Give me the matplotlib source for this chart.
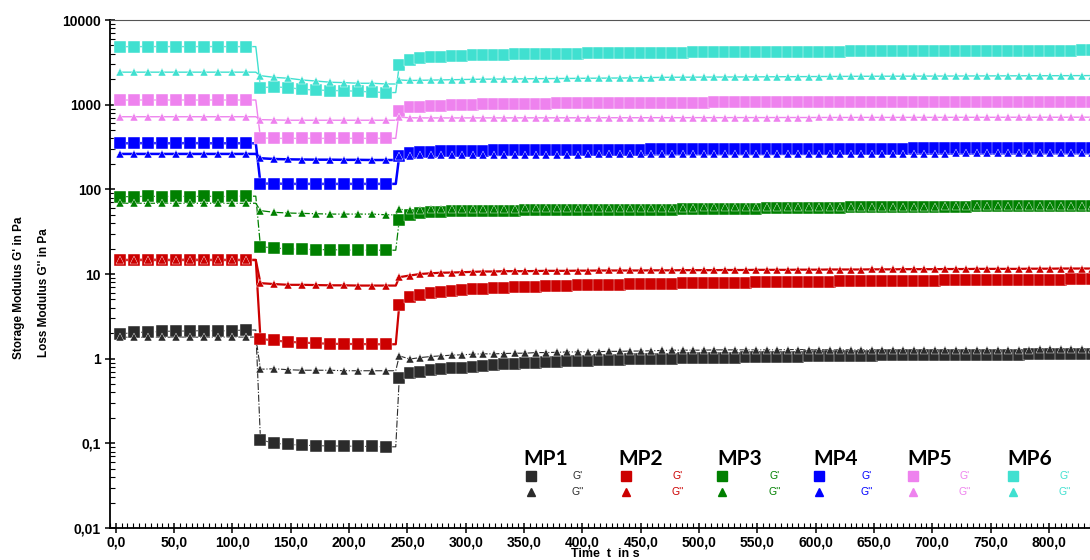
import numpy as np
import matplotlib
matplotlib.use("Agg")
import matplotlib.pyplot as plt
from matplotlib.ticker import MultipleLocator, FixedLocator, LogLocator, NullFormatter

plt.rcParams['font.family'] = ['Liberation Sans', 'DejaVu Sans']
plt.rcParams['font.weight'] = 'bold'

# sampling times in s (rest / high shear / recovery)
t_rest1 = [4, 16, 28, 40, 52, 64, 76, 88, 100, 112]
t_shear = [124, 136, 148, 160, 172, 184, 196, 208, 220, 232]
t_rec_start = 243
t_rec_step = 9

# ---- MP1 ----
mp1_gp_rest1 = [1.95, 2.05, 2.05, 2.1, 2.12, 2.12, 2.15, 2.12, 2.15, 2.18]
mp1_gp_shear = [0.11, 0.10, 0.097, 0.095, 0.094, 0.093, 0.093, 0.092, 0.092, 0.091]
mp1_gp_rec = [0.59, 0.675, 0.705, 0.725, 0.75, 0.77, 0.785, 0.805, 0.83, 0.845,
              0.86, 0.87, 0.885, 0.9, 0.91, 0.925, 0.935, 0.945, 0.95, 0.96,
              0.965, 0.975, 0.98, 0.985, 0.99, 0.995, 1.0, 1.005, 1.01, 1.015,
              1.02, 1.025, 1.03, 1.035, 1.04, 1.045, 1.05, 1.055, 1.06, 1.065,
              1.07, 1.07, 1.075, 1.08, 1.08, 1.085, 1.09, 1.09, 1.095, 1.095,
              1.1, 1.1, 1.105, 1.105, 1.11, 1.11, 1.11, 1.115, 1.115, 1.115,
              1.12, 1.12, 1.12, 1.12, 1.125, 1.125, 1.125]
mp1_gpp_rest1 = [1.8, 1.78, 1.8, 1.79, 1.8, 1.8, 1.79, 1.8, 1.8, 1.8]
mp1_gpp_shear = [0.75, 0.76, 0.74, 0.73, 0.73, 0.73, 0.72, 0.72, 0.72, 0.72]
mp1_gpp_rec = [1.08, 0.99, 1.03, 1.06, 1.08, 1.1, 1.11, 1.13, 1.14, 1.14,
               1.15, 1.16, 1.16, 1.18, 1.18, 1.19, 1.2, 1.2, 1.21, 1.21,
               1.22, 1.22, 1.23, 1.23, 1.24, 1.25, 1.26, 1.26, 1.26, 1.26,
               1.27, 1.27, 1.27, 1.27, 1.27, 1.27, 1.27, 1.28, 1.28, 1.28,
               1.28, 1.28, 1.28, 1.28, 1.28, 1.28, 1.28, 1.28, 1.28, 1.28,
               1.28, 1.28, 1.28, 1.28, 1.28, 1.28, 1.28, 1.28, 1.28, 1.28,
               1.28, 1.29, 1.29, 1.29, 1.29, 1.29, 1.29]

# ---- MP2 ----
mp2_gp_rest1 = [14.7, 14.7, 14.8, 14.7, 14.7, 14.8, 14.7, 14.7, 14.7, 14.7]
mp2_gp_shear = [1.71, 1.64, 1.58, 1.55, 1.52, 1.5, 1.49, 1.49, 1.48, 1.48]
mp2_gp_rec = [4.3, 5.3, 5.66, 5.93, 6.2, 6.37, 6.49, 6.61, 6.73, 6.79,
              6.92, 6.98, 7.05, 7.1, 7.17, 7.24, 7.3, 7.38, 7.38, 7.44,
              7.5, 7.5, 7.57, 7.6, 7.64, 7.67, 7.7, 7.73, 7.76, 7.79,
              7.82, 7.85, 7.88, 7.91, 7.94, 7.97, 8.0, 8.03, 8.06, 8.09,
              8.12, 8.15, 8.18, 8.2, 8.22, 8.24, 8.26, 8.28, 8.3, 8.32,
              8.34, 8.36, 8.38, 8.4, 8.42, 8.44, 8.46, 8.48, 8.5, 8.52,
              8.54, 8.56, 8.58, 8.6, 8.62, 8.64, 8.65]
mp2_gpp_rest1 = [14.6, 14.6, 14.6, 14.6, 14.6, 14.6, 14.6, 14.6, 14.6, 14.6]
mp2_gpp_shear = [7.8, 7.6, 7.45, 7.45, 7.4, 7.35, 7.35, 7.3, 7.3, 7.3]
mp2_gpp_rec = [9.17, 9.6, 10.0, 10.2, 10.35, 10.4, 10.5, 10.6, 10.7, 10.7,
               10.8, 10.8, 10.8, 10.85, 10.9, 10.9, 10.9, 10.95, 10.95, 11.0,
               11.0, 11.0, 11.0, 11.0, 11.05, 11.05, 11.05, 11.1, 11.1, 11.1,
               11.1, 11.15, 11.15, 11.15, 11.2, 11.2, 11.2, 11.2, 11.25, 11.25,
               11.25, 11.3, 11.3, 11.3, 11.3, 11.35, 11.35, 11.35, 11.4, 11.4,
               11.4, 11.4, 11.45, 11.45, 11.45, 11.5, 11.5, 11.5, 11.5, 11.5,
               11.55, 11.55, 11.55, 11.6, 11.6, 11.6, 11.6]

# ---- MP3 ----
mp3_gp_rest1 = [82, 82, 83, 82, 83, 82, 83, 82, 83, 83]
mp3_gp_shear = [21.0, 20.3, 19.7, 19.7, 19.4, 19.4, 19.2, 19.1, 19.1, 19.1]
mp3_gp_rec = [43.6, 49.9, 52.2, 53.7, 54.6, 55.0, 55.1, 55.4, 55.6, 55.8,
              56.0, 56.1, 56.3, 56.4, 56.5, 56.6, 56.7, 56.8, 56.9, 57.0,
              57.1, 57.2, 57.3, 57.4, 57.5, 57.6, 57.7, 57.9, 58.1, 58.3,
              58.5, 58.7, 58.9, 59.1, 59.3, 59.5, 59.7, 59.9, 60.1, 60.3,
              60.5, 60.7, 60.9, 61.1, 61.3, 61.5, 61.7, 61.9, 62.0, 62.1,
              62.2, 62.3, 62.4, 62.5, 62.6, 62.7, 62.8, 62.9, 63.0, 63.1,
              63.2, 63.3, 63.4, 63.5, 63.6, 63.7, 63.7]
mp3_gpp_rest1 = [68.5, 68.5, 68.5, 68.5, 68.5, 68.5, 68.5, 68.5, 68.5, 68.5]
mp3_gpp_shear = [56.0, 53.5, 52.5, 52.0, 51.5, 51.0, 51.0, 51.0, 51.0, 50.0]
mp3_gpp_rec = [58.2, 56.5, 57.5, 58.0, 58.3, 58.5, 58.7, 58.9, 59.0, 59.1,
               59.2, 59.3, 59.4, 59.5, 59.6, 59.7, 59.8, 59.9, 60.0, 60.1,
               60.2, 60.3, 60.4, 60.5, 60.6, 60.7, 60.8, 60.9, 61.0, 61.1,
               61.2, 61.3, 61.4, 61.5, 61.6, 61.7, 61.8, 61.9, 62.0, 62.0,
               62.1, 62.1, 62.2, 62.2, 62.3, 62.3, 62.4, 62.4, 62.5, 62.5,
               62.6, 62.6, 62.7, 62.7, 62.8, 62.8, 62.9, 62.9, 63.0, 63.0,
               63.0, 63.1, 63.1, 63.1, 63.2, 63.2, 63.2]

# ---- MP4 ----
mp4_gp_rest1 = [350, 350, 352, 350, 350, 352, 350, 350, 350, 350]
mp4_gp_shear = [117, 117, 116, 116, 116, 116, 116, 116, 116, 116]
mp4_gp_rec = [250, 267, 274, 279, 281, 284, 285, 286, 287, 288,
              289, 289, 290, 290, 291, 291, 292, 292, 293, 293,
              294, 294, 295, 295, 296, 296, 297, 297, 298, 298,
              298, 299, 299, 299, 300, 300, 300, 300, 301, 301,
              301, 302, 302, 302, 302, 303, 303, 303, 303, 304,
              304, 304, 304, 305, 305, 305, 305, 305, 306, 306,
              306, 306, 306, 307, 307, 307, 307]
mp4_gpp_rest1 = [262, 262, 262, 262, 262, 262, 262, 262, 262, 262]
mp4_gpp_shear = [233, 228, 226, 225, 224, 224, 223, 223, 222, 222]
mp4_gpp_rec = [248, 250, 251, 252, 253, 253, 254, 254, 255, 255,
               255, 256, 256, 256, 257, 257, 257, 257, 258, 258,
               258, 258, 259, 259, 259, 259, 260, 260, 260, 260,
               260, 261, 261, 261, 261, 261, 262, 262, 262, 262,
               262, 263, 263, 263, 263, 263, 263, 264, 264, 264,
               264, 264, 264, 265, 265, 265, 265, 265, 265, 265,
               266, 266, 266, 266, 266, 266, 266]

# ---- MP5 ----
mp5_gp_rest1 = [1135, 1135, 1135, 1135, 1135, 1135, 1135, 1135, 1135, 1135]
mp5_gp_shear = [405, 400, 400, 400, 400, 400, 400, 400, 400, 400]
mp5_gp_rec = [849, 931, 948, 966, 975, 984, 990, 1000, 1005, 1008,
              1019, 1020, 1025, 1028, 1030, 1033, 1035, 1038, 1040, 1042,
              1044, 1046, 1048, 1050, 1052, 1054, 1057, 1058, 1059, 1060,
              1061, 1062, 1063, 1063, 1064, 1064, 1065, 1065, 1066, 1066,
              1067, 1067, 1068, 1068, 1069, 1069, 1070, 1070, 1071, 1071,
              1072, 1072, 1073, 1073, 1074, 1074, 1075, 1075, 1076, 1076,
              1077, 1077, 1078, 1078, 1079, 1079, 1080]
mp5_gpp_rest1 = [720, 720, 720, 720, 720, 720, 720, 720, 720, 720]
mp5_gpp_shear = [665, 660, 655, 655, 655, 655, 655, 655, 655, 655]
mp5_gpp_rec = [712, 700, 698, 697, 697, 697, 697, 698, 698, 698,
               698, 699, 699, 699, 699, 700, 700, 700, 700, 700,
               701, 701, 701, 701, 702, 702, 702, 702, 703, 703,
               703, 703, 704, 704, 704, 704, 705, 705, 705, 705,
               706, 706, 706, 706, 707, 707, 707, 707, 708, 708,
               708, 708, 708, 709, 709, 709, 709, 709, 710, 710,
               710, 710, 710, 710, 711, 711, 711]

# ---- MP6 ----
mp6_gp_rest1 = [4840, 4850, 4850, 4860, 4850, 4850, 4860, 4850, 4850, 4850]
mp6_gp_shear = [1590, 1620, 1590, 1515, 1490, 1470, 1460, 1440, 1410, 1390]
mp6_gp_rec = [2944, 3373, 3530, 3630, 3690, 3760, 3800, 3830, 3860, 3900,
              3910, 3930, 3950, 3970, 3990, 4000, 4010, 4020, 4030, 4040,
              4050, 4060, 4070, 4080, 4090, 4100, 4115, 4125, 4135, 4145,
              4155, 4165, 4170, 4180, 4190, 4195, 4200, 4210, 4215, 4220,
              4230, 4235, 4240, 4250, 4255, 4260, 4265, 4270, 4280, 4285,
              4290, 4295, 4300, 4305, 4310, 4315, 4320, 4325, 4330, 4335,
              4340, 4345, 4350, 4355, 4360, 4365, 4370]
mp6_gpp_rest1 = [2420, 2420, 2420, 2420, 2420, 2420, 2420, 2420, 2420, 2420]
mp6_gpp_shear = [2200, 2100, 2050, 1955, 1900, 1840, 1820, 1790, 1790, 1755]
mp6_gpp_rec = [1958, 1930, 1940, 1950, 1960, 1970, 1980, 1990, 2000, 2005,
               2010, 2015, 2020, 2025, 2030, 2035, 2040, 2045, 2050, 2055,
               2060, 2065, 2070, 2080, 2090, 2100, 2105, 2110, 2112, 2115,
               2118, 2120, 2123, 2126, 2130, 2133, 2136, 2140, 2143, 2146,
               2150, 2153, 2156, 2160, 2162, 2164, 2166, 2168, 2170, 2172,
               2174, 2176, 2178, 2180, 2182, 2184, 2186, 2188, 2190, 2192,
               2194, 2196, 2198, 2200, 2202, 2204, 2206]

names = ['MP1', 'MP2', 'MP3', 'MP4', 'MP5', 'MP6']
colors = ['#2b2b2b', '#cc0000', '#008000', '#0000ff', '#ee82ee', '#40e0d0']
line_styles = ['-.', '-', '-.', '-', '-', '-']
line_widths = [0.8, 1.6, 0.9, 1.8, 1.0, 1.0]

gp = [(mp1_gp_rest1, mp1_gp_shear, mp1_gp_rec), (mp2_gp_rest1, mp2_gp_shear, mp2_gp_rec),
      (mp3_gp_rest1, mp3_gp_shear, mp3_gp_rec), (mp4_gp_rest1, mp4_gp_shear, mp4_gp_rec),
      (mp5_gp_rest1, mp5_gp_shear, mp5_gp_rec), (mp6_gp_rest1, mp6_gp_shear, mp6_gp_rec)]
gpp = [(mp1_gpp_rest1, mp1_gpp_shear, mp1_gpp_rec), (mp2_gpp_rest1, mp2_gpp_shear, mp2_gpp_rec),
       (mp3_gpp_rest1, mp3_gpp_shear, mp3_gpp_rec), (mp4_gpp_rest1, mp4_gpp_shear, mp4_gpp_rec),
       (mp5_gpp_rest1, mp5_gpp_shear, mp5_gpp_rec), (mp6_gpp_rest1, mp6_gpp_shear, mp6_gpp_rec)]

W, H = 1090, 560
fig = plt.figure(figsize=(W / 100, H / 100), dpi=100)
ax = fig.add_axes([110 / W, 32 / H, 980 / W, 508 / H])


def draw(seg1, seg2, seg3, color, ls, lw, marker, ms):
    t3 = [t_rec_start + t_rec_step * k for k in range(len(seg3))]
    # line keeps the level until the interval changes
    tl = t_rest1 + [120] + t_shear + [240] + t3
    vl = seg1 + [seg1[-1]] + seg2 + [seg2[-1]] + seg3
    ax.plot(tl, vl, color=color, ls=ls, lw=lw, zorder=2)
    ax.plot(t_rest1 + t_shear + t3, seg1 + seg2 + seg3, ls='none', marker=marker,
            ms=ms, mfc=color, mec='white', mew=0.3, zorder=3)


for i in range(6):
    draw(*gp[i], colors[i], line_styles[i], line_widths[i], 's', 8.0)
    draw(*gpp[i], colors[i], line_styles[i], line_widths[i], '^', 6.4)

ax.set_yscale('log')
ax.set_ylim(0.01, 10000)

ax.xaxis.set_minor_locator(MultipleLocator(5))
ax.set_xticks(np.arange(0, 850, 50))
ax.set_xticklabels([f"{v:.1f}".replace('.', ',') for v in np.arange(0, 850, 50)])
ax.set_xlim(-5, 835.2)

yt = [0.01, 0.1, 1, 10, 100, 1000, 10000]
ax.yaxis.set_major_locator(FixedLocator(yt))
ax.set_yticklabels(['0,01', '0,1', '1', '10', '100', '1000', '10000'])
ax.yaxis.set_minor_locator(LogLocator(base=10, subs=np.arange(2, 10)))
ax.yaxis.set_minor_formatter(NullFormatter())

ax.tick_params(which='major', direction='inout', length=7, width=1.1, labelsize=10, pad=2)
ax.tick_params(which='minor', direction='in', length=3.5, width=0.8)
ax.tick_params(axis='y', which='major', pad=3)
for s in ['left', 'bottom']:
    ax.spines[s].set_linewidth(1.3)
ax.spines['top'].set_color('#555555')
ax.spines['right'].set_visible(False)

# axis titles
fig.text(19 / W, 1 - 288 / H, "Storage Modulus G' in Pa", rotation=90, ha='center',
         va='center', fontsize=8.5)
fig.text(44 / W, 1 - 293 / H, "Loss Modulus G'' in Pa", rotation=90, ha='center',
         va='center', fontsize=8.5)
fig.text(571 / W, 1 - 548 / H, "Time  t  in s", ha='left', va='top', fontsize=9)

# legend built by hand
title_x = [523, 618, 717, 813, 907, 1007]
mark_x = [531, 626, 722, 819, 913, 1013]
gtext_x = [578, 678, 775, 867, 965, 1065]
for i in range(6):
    fig.text(title_x[i] / W, 1 - 465 / H, names[i], ha='left', va='baseline',
             fontsize=15, fontweight='bold', family=['Lato', 'DejaVu Sans'])
    ax.plot([mark_x[i] / W], [1 - 476 / H], marker='s', ms=7.5, color=colors[i],
            transform=fig.transFigure, clip_on=False)
    ax.plot([mark_x[i] / W], [1 - 492 / H], marker='^', ms=6, color=colors[i],
            transform=fig.transFigure, clip_on=False)
    fig.text(gtext_x[i] / W, 1 - 476 / H, "G'", ha='center', va='center',
             fontsize=7.5, fontweight='normal', color=colors[i])
    fig.text(gtext_x[i] / W, 1 - 492 / H, "G''", ha='center', va='center',
             fontsize=7.5, fontweight='normal', color=colors[i])

fig.savefig('out.png', dpi=100)
